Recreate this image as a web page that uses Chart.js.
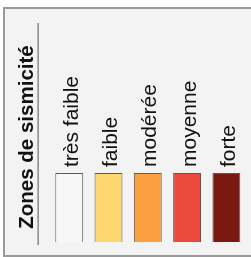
<!DOCTYPE html>
<html><head><meta charset="utf-8">
<script src="https://cdn.jsdelivr.net/npm/chart.js@4/dist/chart.umd.min.js"></script>
<style>
html,body{margin:0;padding:0;background:#fff;width:251px;height:257px;overflow:hidden}
#frame{position:absolute;left:3px;top:7px;width:250px;height:246px;border:2px solid #9a9a9a;border-right:none;background:#f3f3f3}
#c{position:absolute;left:0;top:0}
</style></head><body>
<div id="frame"></div>
<canvas id="c" width="251" height="257"></canvas>
<script>
const categories = ["très faible", "faible", "modérée", "moyenne", "forte"];
const values = [1, 1, 1, 1, 1];
const colors = ["#f7f7f7", "#fed76e", "#fca03f", "#e94a3c", "#7b1910"];
const titleText = "Zones de sismicité";

const FONT = "'Liberation Sans', Arial, Helvetica, sans-serif";

const linePlugin = {
  id: 'sepLine',
  afterDraw(chart) {
    const ctx = chart.ctx, a = chart.chartArea;
    const x = a.left - 11.5;
    ctx.save();
    ctx.strokeStyle = '#555';
    ctx.lineWidth = 1;
    ctx.beginPath();
    ctx.moveTo(x, chart.scales.x.top - 9);
    ctx.lineTo(x, a.bottom + 3);
    ctx.stroke();
    ctx.restore();
  }
};

new Chart(document.getElementById('c'), {
  type: 'bar',
  data: {
    labels: categories,
    datasets: [{
      data: values,
      backgroundColor: colors,
      borderColor: '#5a5a5a',
      borderWidth: 1,
      barPercentage: 0.71,
      categoryPercentage: 1
    }]
  },
  options: {
    responsive: false,
    animation: false,
    devicePixelRatio: 1,
    layout: { padding: { left: 10, right: 5, top: 32, bottom: 15 } },
    plugins: {
      legend: { display: false },
      tooltip: { enabled: false },
      title: {
        display: true,
        text: titleText,
        position: 'left',
        color: '#111',
        font: { family: FONT, size: 20.5, weight: 'bold' },
        padding: { top: 5, bottom: 10 }
      }
    },
    scales: {
      x: {
        position: 'top',
        grid: { display: false, drawTicks: false },
        border: { display: false },
        ticks: {
          minRotation: 90, maxRotation: 90, padding: 6,
          autoSkip: false,
          labelOffset: 28,
          color: '#111',
          font: { family: FONT, size: 21 }
        },
        afterFit(s) { s.height = 141; }
      },
      y: {
        display: false,
        min: 0, max: 1
      }
    }
  },
  plugins: [linePlugin]
});
</script>
</body></html>
